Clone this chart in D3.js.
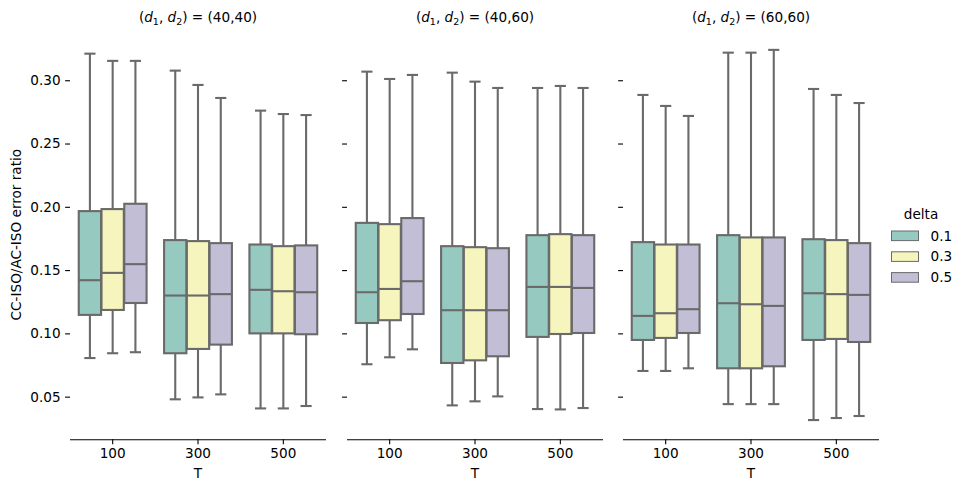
<!DOCTYPE html>
<html>
<head>
<meta charset="utf-8">
<script src="https://cdn.jsdelivr.net/npm/d3@7"></script>
<style>
  body { margin: 0; background: #fff; }
  text { font-family: "DejaVu Sans", sans-serif; fill: #000; }
</style>
</head>
<body>
<div id="chart"></div>
<script>
// facets, categories and hue levels
var panelA = ['40', '40'], panelB = ['40', '60'], panelC = ['60', '60'];
var panels = [panelA, panelB, panelC];
var tValues = ['100', '300', '500'];
var deltas = ['0.1', '0.3', '0.5'];
var yTicks = [0.05, 0.10, 0.15, 0.20, 0.25, 0.30];

// box stats per panel, order: T=100 (d .1,.3,.5), T=300 (...), T=500 (...)
var whiskLo = [
    [0.0805, 0.0843, 0.0851, 0.0479, 0.0494, 0.0518, 0.0407, 0.0407, 0.0426],
    [0.0756, 0.0811, 0.0874, 0.0431, 0.0463, 0.0502, 0.0402, 0.0399, 0.0410],
    [0.0703, 0.0703, 0.0724, 0.0441, 0.0441, 0.0441, 0.0315, 0.0331, 0.0347]
];
var q1 = [
    [0.1146, 0.1185, 0.1240, 0.0843, 0.0877, 0.0911, 0.1000, 0.1000, 0.0993],
    [0.1082, 0.1104, 0.1153, 0.0766, 0.0787, 0.0819, 0.0972, 0.0995, 0.1003],
    [0.0948, 0.0964, 0.1003, 0.0724, 0.0724, 0.0740, 0.0948, 0.0956, 0.0932]
];
var med = [
    [0.1420, 0.1478, 0.1547, 0.1299, 0.1299, 0.1310, 0.1344, 0.1333, 0.1325],
    [0.1325, 0.1351, 0.1412, 0.1183, 0.1183, 0.1183, 0.1367, 0.1367, 0.1359],
    [0.1138, 0.1159, 0.1191, 0.1238, 0.1230, 0.1217, 0.1317, 0.1310, 0.1304]
];
var q3 = [
    [0.1966, 0.1982, 0.2024, 0.1737, 0.1729, 0.1713, 0.1702, 0.1689, 0.1695],
    [0.1873, 0.1863, 0.1911, 0.1689, 0.1681, 0.1673, 0.1776, 0.1784, 0.1776],
    [0.1721, 0.1702, 0.1702, 0.1776, 0.1758, 0.1758, 0.1744, 0.1737, 0.1713]
];
var whiskHi = [
    [0.3210, 0.3153, 0.3153, 0.3076, 0.2963, 0.2860, 0.2760, 0.2733, 0.2725],
    [0.3068, 0.3010, 0.3042, 0.3060, 0.2989, 0.2939, 0.2939, 0.2955, 0.2939],
    [0.2884, 0.2797, 0.2718, 0.3218, 0.3218, 0.3240, 0.2931, 0.2884, 0.2820]
];

var width = 964,
    height = 492;

var colors = ['#96cac1', '#f5f5bd', '#c1bed6'],
    gray = '#6a6a6a';

var panelLeft = [70, 347, 623],
    panelW = 256,
    plotTop = 30,
    plotBottom = 439.3;

var svg = d3.select('#chart')
    .append('svg')
        .attr('width', width)
        .attr('height', height);

var y = d3.scaleLinear()
    .domain([0.0163, 0.3397])
    .range([plotBottom, plotTop]);

var hue = d3.scaleBand().domain(deltas);

panels.forEach(function (p, pi) {
    var x = d3.scaleBand()
        .domain(tValues)
        .range([panelLeft[pi], panelLeft[pi] + panelW]);
    var groupW = x.bandwidth() * 0.8;
    hue.range([-groupW / 2, groupW / 2]);
    var boxW = hue.bandwidth() * 0.98;

    var g = svg.append('g');

    // title with math-style d1, d2
    var title = g.append('text')
        .attr('x', panelLeft[pi] + panelW / 2)
        .attr('y', 22)
        .attr('text-anchor', 'middle')
        .style('font-size', '13.6px');
    title.append('tspan').text('(');
    title.append('tspan').style('font-style', 'italic').text('d');
    title.append('tspan').attr('dy', 3).style('font-size', '9.5px').text('1');
    title.append('tspan').attr('dy', -3).text(', ');
    title.append('tspan').style('font-style', 'italic').text('d');
    title.append('tspan').attr('dy', 3).style('font-size', '9.5px').text('2');
    title.append('tspan').attr('dy', -3).text(') = (' + p[0] + ',' + p[1] + ')');

    // x axis
    var xAxis = g.append('g')
        .attr('transform', 'translate(0,' + plotBottom + ')')
        .call(d3.axisBottom(x).tickSizeOuter(0).tickSize(4.9).tickPadding(4.5));
    xAxis.select('.domain')
        .attr('d', 'M' + panelLeft[pi] + ',0.5H' + (panelLeft[pi] + panelW))
        .attr('stroke', '#000').attr('stroke-width', 1.1);
    xAxis.selectAll('.tick line').attr('stroke', '#000').attr('stroke-width', 1.1);
    xAxis.selectAll('.tick text')
        .style('font-size', '13.6px')
        .style('font-family', '"DejaVu Sans", sans-serif')
        .attr('fill', '#000');

    g.append('text')
        .attr('x', panelLeft[pi] + panelW / 2)
        .attr('y', 478)
        .attr('text-anchor', 'middle')
        .style('font-size', '13.6px')
        .text('T');

    // y ticks, no spine
    var yAxis = g.append('g')
        .attr('transform', 'translate(' + panelLeft[pi] + ',0)')
        .call(d3.axisLeft(y).tickValues(yTicks).tickFormat(d3.format('.2f'))
            .tickSize(4.9).tickPadding(4.5));
    yAxis.select('.domain').remove();
    yAxis.selectAll('.tick line').attr('stroke', '#000').attr('stroke-width', 1.1);
    yAxis.selectAll('.tick text')
        .style('font-size', '13.6px')
        .style('font-family', '"DejaVu Sans", sans-serif')
        .attr('fill', '#000');
    if (pi > 0) yAxis.selectAll('.tick text').remove();

    // boxes
    var boxes = [];
    tValues.forEach(function (t, ti) {
        deltas.forEach(function (d, di) {
            var k = ti * 3 + di;
            boxes.push({
                t: t, d: d, di: di,
                lo: whiskLo[pi][k], q1: q1[pi][k], med: med[pi][k],
                q3: q3[pi][k], hi: whiskHi[pi][k]
            });
        });
    });

    var bx = g.selectAll('g.box')
        .data(boxes)
        .enter()
        .append('g')
            .attr('class', 'box')
            .attr('transform', function (d) {
                var cx = x(d.t) + x.bandwidth() / 2 + hue(d.d) + hue.bandwidth() / 2;
                return 'translate(' + cx + ',0)';
            });

    bx.append('line')  // whiskers
        .attr('x1', 0).attr('x2', 0)
        .attr('y1', function (d) { return y(d.hi); })
        .attr('y2', function (d) { return y(d.q3); })
        .attr('stroke', gray).attr('stroke-width', 2.1);
    bx.append('line')
        .attr('x1', 0).attr('x2', 0)
        .attr('y1', function (d) { return y(d.q1); })
        .attr('y2', function (d) { return y(d.lo); })
        .attr('stroke', gray).attr('stroke-width', 2.1);
    bx.append('line')  // caps
        .attr('x1', -boxW / 4).attr('x2', boxW / 4)
        .attr('y1', function (d) { return y(d.hi); })
        .attr('y2', function (d) { return y(d.hi); })
        .attr('stroke', gray).attr('stroke-width', 2.1);
    bx.append('line')
        .attr('x1', -boxW / 4).attr('x2', boxW / 4)
        .attr('y1', function (d) { return y(d.lo); })
        .attr('y2', function (d) { return y(d.lo); })
        .attr('stroke', gray).attr('stroke-width', 2.1);
    bx.append('rect')
        .attr('x', -boxW / 2)
        .attr('width', boxW)
        .attr('y', function (d) { return y(d.q3); })
        .attr('height', function (d) { return y(d.q1) - y(d.q3); })
        .attr('fill', function (d) { return colors[d.di]; })
        .attr('stroke', gray).attr('stroke-width', 2.1);
    bx.append('line')  // median
        .attr('x1', -boxW / 2).attr('x2', boxW / 2)
        .attr('y1', function (d) { return y(d.med); })
        .attr('y2', function (d) { return y(d.med); })
        .attr('stroke', gray).attr('stroke-width', 2.1);
});

// y label
svg.append('text')
    .attr('transform', 'translate(21,' + ((plotTop + plotBottom) / 2) + ') rotate(-90)')
    .attr('text-anchor', 'middle')
    .style('font-size', '13.6px')
    .text('CC-ISO/AC-ISO error ratio');

// legend
var legend = svg.append('g');
legend.append('text')
    .attr('x', 921)
    .attr('y', 219)
    .attr('text-anchor', 'middle')
    .style('font-size', '13.6px')
    .text('delta');
var items = legend.selectAll('g.item')
    .data(deltas)
    .enter()
    .append('g')
        .attr('class', 'item')
        .attr('transform', function (d, i) { return 'translate(0,' + (231 + i * 20.8) + ')'; });
items.append('rect')
    .attr('x', 891.5).attr('width', 27)
    .attr('y', 0).attr('height', 9.6)
    .attr('fill', function (d, i) { return colors[i]; })
    .attr('stroke', gray).attr('stroke-width', 1);
items.append('text')
    .attr('x', 930.5)
    .attr('y', 9.5)
    .style('font-size', '13.6px')
    .text(function (d) { return d; });
</script>
</body>
</html>
